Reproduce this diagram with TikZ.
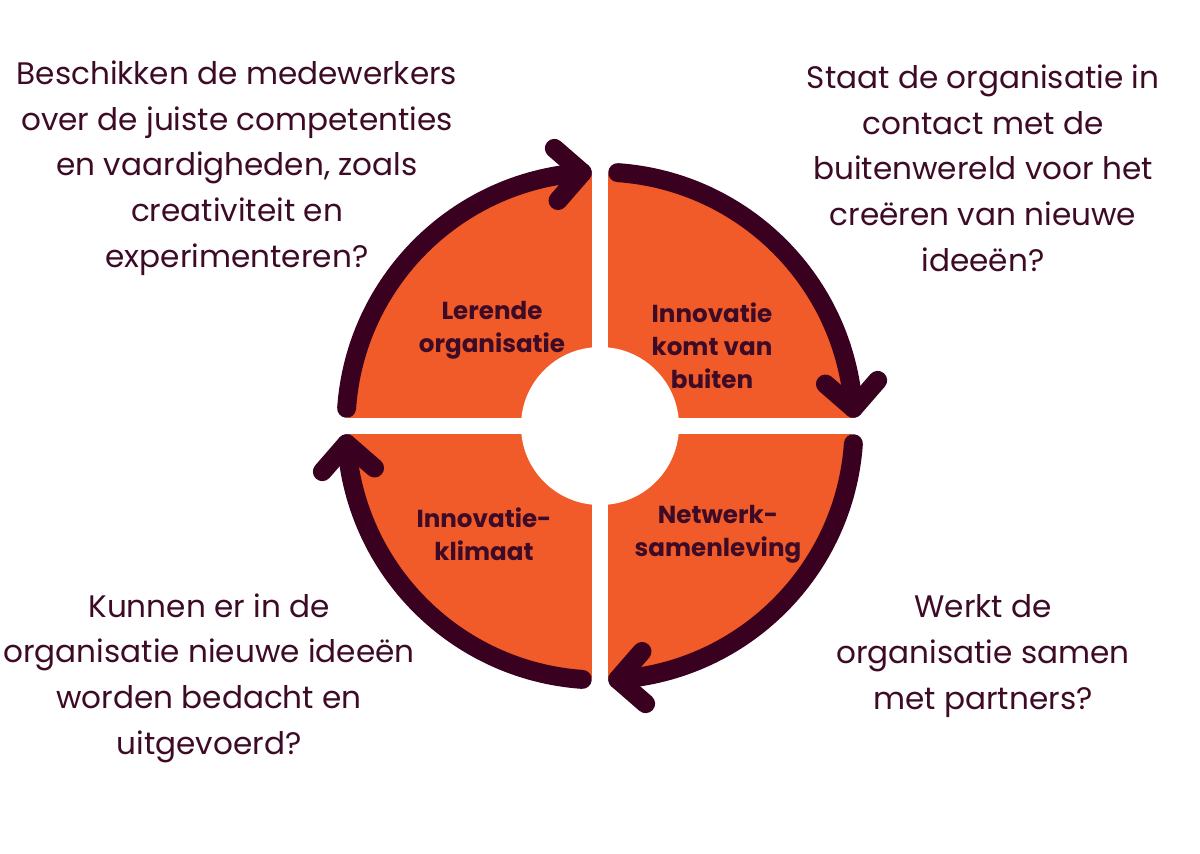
\documentclass[tikz,border=0pt]{standalone}
\usepackage{fontspec}
\setmainfont{Poppins}
\usetikzlibrary{calc}
\definecolor{orng}{HTML}{F15A29}
\definecolor{plum}{HTML}{3A0020}
\definecolor{txt}{HTML}{3D0B26}
\begin{document}
\begin{tikzpicture}[x=0.02cm,y=-0.02cm,
 q/.style={align=center,text=txt,font=\fontsize{17.7}{26}\selectfont,inner sep=0pt},
 lab/.style={align=center,text=txt,font=\bfseries\fontsize{14}{18.7}\selectfont,inner sep=0pt},
 ring/.style={draw=plum,line width=10.8pt,line cap=round,line join=round}]
\useasboundingbox (0,0) rectangle (1200,853);
\fill[white] (0,0) rectangle (1200,853);
\coordinate (c) at (600,426);
\fill[orng] (c) circle[radius=252];
\fill[white] (592,160) rectangle (608,692);
\fill[white] (340,418) rectangle (860,434);
\fill[white] (c) circle[radius=79];
\foreach \s in {0,90,180,270} {
  \draw[ring] ($(c)+(\s+184:254)$) arc[start angle=\s+184,end angle=\s+266,radius=254];
  \draw[ring] ($(c)+(\s+266:254)+(\s+221:37)$) -- ($(c)+(\s+266:254)$) -- ($(c)+(\s+266:254)+(\s+131:37)$);
}
\node[lab] (l1) at (492,330) {Lerende\\organisatie};
\node[lab] (l2) at (712,346) {Innovatie\\komt van\\buiten};
\node[lab] (l3) at (484,534) {Innovatie-\\klimaat};
\node[lab] (l4) at (718,534) {Netwerk-\\samenleving};
\node[q] (q1) at (237,168) {Beschikken de medewerkers\\over de juiste competenties\\en vaardigheden, zoals\\creativiteit en\\experimenteren?};
\node[q] (q2) at (983,168) {Staat de organisatie in\\contact met de\\buitenwereld voor het\\creëren van nieuwe\\ideeën?};
\node[q] (q3) at (209,678) {Kunnen er in de\\organisatie nieuwe ideeën\\worden bedacht en\\uitgevoerd?};
\node[q] (q4) at (983,656) {Werkt de\\organisatie samen\\met partners?};
\end{tikzpicture}
\end{document}
